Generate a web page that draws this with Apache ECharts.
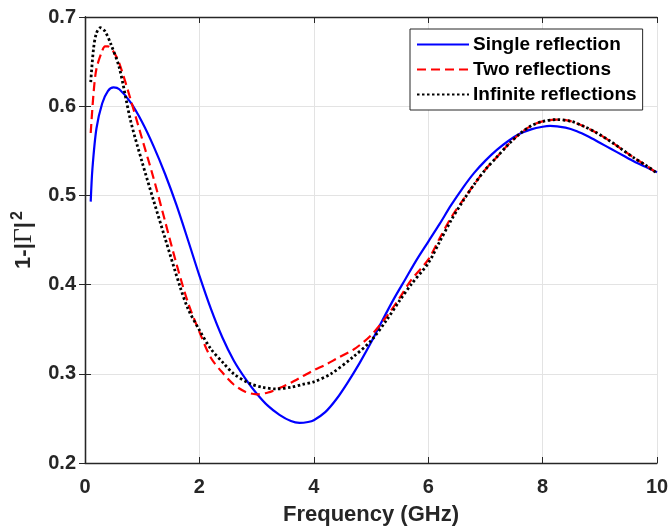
<!DOCTYPE html>
<html>
<head>
<meta charset="utf-8">
<script src="https://cdn.jsdelivr.net/npm/echarts@6/dist/echarts.min.js"></script>
<style>html,body{margin:0;padding:0;background:#fff}#c{width:670px;height:529px}</style>
</head>
<body>
<div id="c"></div>
<script>
const seriesNames = ['Single reflection', 'Two reflections', 'Infinite reflections'];
const xTicks = [0, 2, 4, 6, 8, 10];
const yTicks = [0.2, 0.3, 0.4, 0.5, 0.6, 0.7];

const singleX = [0.1,0.13,0.2,0.3,0.4,0.5,0.6,0.8,1.0,1.2,1.4,1.6,1.8,2.0,2.2,2.4,2.6,2.8,3.0,3.2,3.4,3.6,3.75,3.9,4.0,4.2,4.4,4.6,4.8,5.0,5.2,5.4,5.6,5.8,6.0,6.2,6.4,6.6,6.8,7.0,7.2,7.4,7.6,7.8,8.0,8.13,8.4,8.6,8.8,9.0,9.2,9.4,9.6,9.8,10];
const singleY = [0.493,0.53,0.575,0.603,0.617,0.621,0.619,0.604,0.582,0.555,0.524,0.489,0.45,0.41,0.373,0.341,0.315,0.295,0.278,0.264,0.254,0.247,0.245,0.246,0.248,0.257,0.272,0.291,0.312,0.335,0.36,0.384,0.406,0.428,0.448,0.468,0.489,0.508,0.525,0.539,0.551,0.561,0.569,0.574,0.577,0.578,0.576,0.572,0.566,0.559,0.552,0.545,0.538,0.532,0.526];

const twoX = [0.1,0.15,0.2,0.3,0.35,0.4,0.5,0.6,0.8,1.0,1.2,1.4,1.6,1.8,2.0,2.2,2.42,2.6,2.8,3.0,3.2,3.4,3.6,3.8,4.0,4.2,4.4,4.69,4.8,5.0,5.27,5.5,5.7,6.0,6.2,6.4,6.61,6.8,7.0,7.2,7.4,7.6,7.8,8.0,8.25,8.5,8.7,8.95,9.2,9.4,9.6,9.8,10];
const twoY = [0.57,0.615,0.642,0.662,0.667,0.667,0.661,0.648,0.607,0.563,0.519,0.471,0.423,0.38,0.347,0.318,0.30,0.288,0.28,0.277,0.279,0.284,0.29,0.297,0.304,0.31,0.317,0.327,0.332,0.343,0.364,0.385,0.405,0.428,0.452,0.475,0.495,0.512,0.529,0.543,0.557,0.569,0.578,0.583,0.585,0.583,0.578,0.57,0.56,0.551,0.542,0.534,0.525];

const infX = [0.1,0.15,0.2,0.27,0.35,0.45,0.6,0.8,1.0,1.2,1.4,1.66,1.8,2.0,2.2,2.42,2.6,2.885,3.1,3.35,3.6,3.8,4.0,4.3,4.69,5.0,5.27,5.5,5.7,6.0,6.2,6.4,6.61,6.8,7.0,7.2,7.4,7.6,7.8,8.0,8.25,8.5,8.7,8.95,9.2,9.4,9.6,9.8,10];
const infY = [0.627,0.665,0.682,0.688,0.684,0.67,0.643,0.583,0.537,0.494,0.452,0.398,0.373,0.349,0.328,0.312,0.30,0.289,0.285,0.283,0.285,0.288,0.291,0.30,0.319,0.337,0.36,0.382,0.40,0.424,0.448,0.472,0.494,0.512,0.529,0.543,0.557,0.569,0.578,0.583,0.585,0.583,0.578,0.57,0.56,0.551,0.542,0.534,0.525];

const pairs = (xs, ys) => xs.map((x, i) => [x, ys[i]]);
const FONT = 'Liberation Sans, Arial, Helvetica, sans-serif';

const chart = echarts.init(document.getElementById('c'), null, {renderer: 'canvas'});
const axisLine = {show: true, lineStyle: {color: '#262626', width: 1.3}};
const tick = {show: true, inside: true, length: 6, lineStyle: {color: '#262626', width: 1}};
const label = {color: '#262626', fontSize: 20, fontWeight: 'bold', fontFamily: FONT};

chart.setOption({
  animation: false,
  backgroundColor: '#fff',
  grid: {left: 85, right: 13, top: 17, bottom: 66, show: false, outerBoundsMode: 'none', containLabel: false},
  legend: {
    orient: 'vertical', left: 410, top: 29,
    data: seriesNames,
    backgroundColor: '#fff', borderColor: '#262626', borderWidth: 1,
    padding: [6, 6, 6, 6], itemGap: 6, itemWidth: 52, itemHeight: 19,
    itemStyle: {opacity: 0},
    textStyle: {fontSize: 19, fontWeight: 'bold', color: '#000', fontFamily: FONT, padding: [0,0,0,-1]}
  },
  xAxis: [{
    type: 'value', min: 0, max: 10, interval: 2,
    name: 'Frequency (GHz)', nameLocation: 'middle', nameGap: 41,
    nameTextStyle: {fontSize: 22, fontWeight: 'bold', color: '#262626', fontFamily: FONT},
    axisLine: axisLine, axisTick: tick,
    axisLabel: Object.assign({margin: 14, formatter: v => xTicks.includes(v) ? String(v) : ''}, label),
    splitLine: {show: true, lineStyle: {color: '#e3e3e3', width: 1}}
  }, {
    type: 'value', min: 0, max: 10, interval: 2, position: 'top',
    axisLine: axisLine, axisTick: tick, axisLabel: {show: false}, splitLine: {show: false}
  }],
  yAxis: [{
    type: 'value', min: 0.2, max: 0.7, interval: 0.1,
    name: '{a|1-|}{g|Γ}{a||}{s|2}', nameLocation: 'middle', nameGap: 44,
    nameTextStyle: {
      rich: {
        a: {fontSize: 22, fontWeight: 'bold', color: '#262626', fontFamily: FONT},
        g: {fontSize: 26, color: '#262626', fontFamily: 'Liberation Serif, DejaVu Serif, serif'},
        s: {fontSize: 16, fontWeight: 'bold', color: '#262626', fontFamily: FONT, verticalAlign: 'top', padding: [0,0,14,2]}
      }
    },
    axisLine: axisLine, axisTick: tick,
    axisLabel: Object.assign({margin: 9, formatter: v => v.toFixed(1)}, label),
    splitLine: {show: true, lineStyle: {color: '#e3e3e3', width: 1}}
  }, {
    type: 'value', min: 0.2, max: 0.7, interval: 0.1, position: 'right',
    axisLine: axisLine, axisTick: tick, axisLabel: {show: false}, splitLine: {show: false}
  }],
  series: [{
    name: seriesNames[0], type: 'line', data: pairs(singleX, singleY), smooth: 0.3,
    symbol: 'none', z: 3,
    lineStyle: {color: '#0000ff', width: 2.2, type: 'solid'}, itemStyle: {color: '#0000ff'}
  }, {
    name: seriesNames[1], type: 'line', data: pairs(twoX, twoY), smooth: 0.3,
    symbol: 'none', z: 4,
    lineStyle: {color: '#ff0000', width: 2.2, type: [9, 5]}, itemStyle: {color: '#ff0000'}
  }, {
    name: seriesNames[2], type: 'line', data: pairs(infX, infY), smooth: 0.3,
    symbol: 'none', z: 5,
    lineStyle: {color: '#000000', width: 2.8, type: [2.5, 2.5]}, itemStyle: {color: '#000000'}
  }]
});
</script>
</body>
</html>
